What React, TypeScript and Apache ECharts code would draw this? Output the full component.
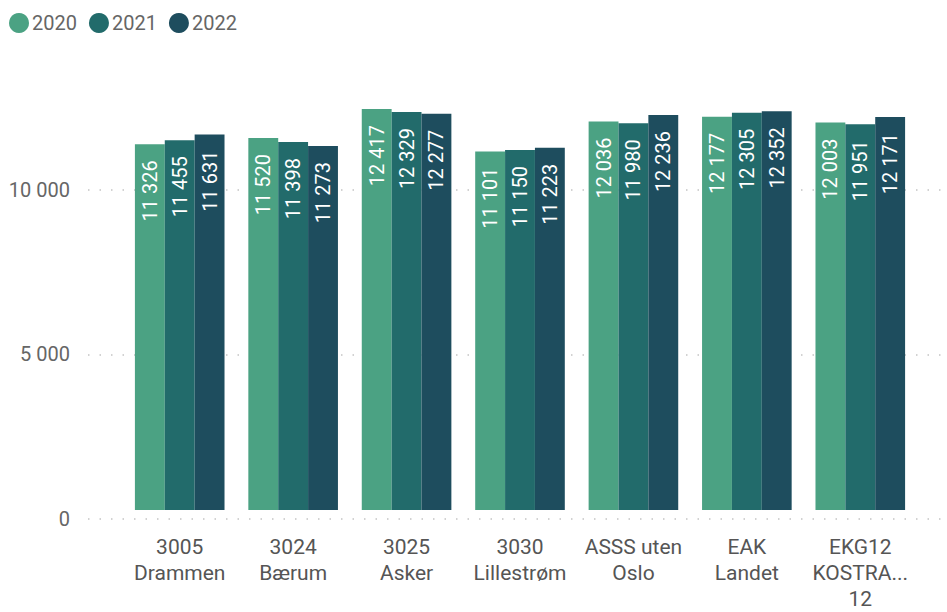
import React, { useEffect, useRef } from "react";
import * as echarts from "echarts";

const categories = ["3005\nDrammen", "3024\nBærum", "3025\nAsker", "3030\nLillestrøm", "ASSS uten\nOslo", "EAK\nLandet", "EKG12\nKOSTRA...\n12"];
const seriesNames = ["2020", "2021", "2022"];
const values2020 = [11326, 11520, 12417, 11101, 12036, 12177, 12003];
const values2021 = [11455, 11398, 12329, 11150, 11980, 12305, 11951];
const values2022 = [11631, 11273, 12277, 11223, 12236, 12352, 12171];
const colors = ["#4BA283", "#226B6B", "#1E4D5E"];

const fmt = (v: number) => String(Math.round(v)).replace(/\B(?=(\d{3})+(?!\d))/g, " ");

export default function App() {
  const ref = useRef<HTMLDivElement>(null);
  useEffect(() => {
    const chart = echarts.init(ref.current!, null, { renderer: "svg" });
    const font = "Roboto, 'DejaVu Sans', sans-serif";
    const data = [values2020, values2021, values2022];
    chart.setOption({
      animation: false,
      textStyle: { fontFamily: font },
      legend: {
        left: 4,
        top: 8,
        icon: "circle",
        itemWidth: 20,
        itemHeight: 20,
        itemGap: 12,
        textStyle: { fontSize: 20, color: "#666", fontFamily: font, padding: [0, 0, 0, -2] },
        data: seriesNames,
      },
      grid: [
        { left: 123, right: 30, top: 58, bottom: 93, containLabel: false },
        { left: 88, right: 0, top: 58, bottom: 93, containLabel: false },
      ],
      xAxis: [
        {
          type: "category",
          gridIndex: 0,
          data: categories,
          axisLine: { show: false },
          axisTick: { show: false },
          axisLabel: { color: "#555", fontSize: 21, lineHeight: 26, margin: 24, interval: 0, fontFamily: font },
        },
        { type: "value", gridIndex: 1, show: false, min: 0, max: 1 },
      ],
      yAxis: [
        {
          type: "value",
          gridIndex: 0,
          min: 0,
          max: 14000,
          interval: 5000,
          splitLine: { show: false },
          axisLine: { show: false },
          axisTick: { show: false },
          axisLabel: { show: false },
        },
        {
          type: "value",
          gridIndex: 1,
          min: 0,
          max: 14000,
          interval: 5000,
          splitLine: { show: true, showMaxLine: false, lineStyle: { color: "#c4c4c4", type: [1.5, 10], width: 1.5 } },
          axisLine: { show: false },
          axisTick: { show: false },
          axisLabel: {
            color: "#666",
            fontSize: 20,
            margin: 18,
            fontFamily: font,
            showMaxLabel: false,
            formatter: (v: number) => (v > 12000 ? "" : fmt(v)),
          },
        },
      ],
      series: seriesNames.map((name, i) => ({
        name,
        type: "bar",
        xAxisIndex: 0,
        yAxisIndex: 0,
        data: data[i],
        barGap: "0%",
        barCategoryGap: "21%",
        itemStyle: { color: colors[i] },
        label: {
          show: true,
          position: "insideTop",
          rotate: 90,
          align: "right",
          verticalAlign: "middle",
          distance: 16,
          color: "#fff",
          fontSize: 20,
          fontFamily: font,
          formatter: (p: any) => fmt(p.value),
        },
      })),
    });
    return () => chart.dispose();
  }, []);
  return <div ref={ref} style={{ position: "absolute", left: 0, top: 0, width: 947, height: 612 }} />;
}
